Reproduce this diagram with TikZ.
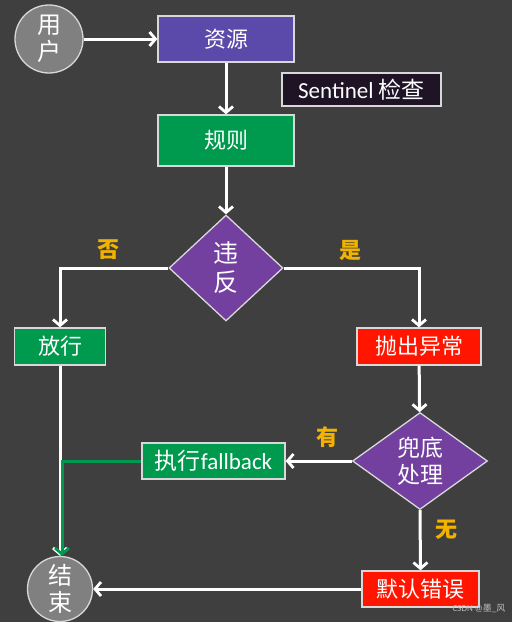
\documentclass[tikz,border=0pt]{standalone}
\usepackage{fontspec}
\setmainfont{Carlito}
\newfontfamily\cjk{Noto Sans CJK SC}
\usetikzlibrary{shapes.geometric,arrows.meta}

\definecolor{bgdark}{HTML}{3F3F3F}
\definecolor{respurple}{HTML}{5B4AA9}
\definecolor{okgreen}{HTML}{009A4E}
\definecolor{diapurple}{HTML}{7340A0}
\definecolor{errred}{HTML}{FF1500}
\definecolor{chkdark}{HTML}{1F1426}
\definecolor{labelorange}{HTML}{F2B200}
\definecolor{endgray}{HTML}{808080}
\definecolor{edgegray}{HTML}{D8D8D8}

\tikzset{
  flowbox/.style={draw=edgegray,line width=1.3pt,inner sep=0pt,text=white,font=\cjk\fontsize{22}{24}\selectfont},
  decide/.style={diamond,draw=edgegray,line width=1.3pt,fill=diapurple,inner sep=0pt,text=white,align=center,font=\cjk\fontsize{25}{29}\selectfont},
  terminal/.style={circle,draw=edgegray,line width=1.3pt,fill=endgray,inner sep=0pt,minimum size=68pt,text=white,align=center,font=\cjk\fontsize{24}{27}\selectfont},
  answer/.style={text=labelorange,font=\cjk\bfseries\fontsize{22}{24}\selectfont},
  flow/.style={draw=white,line width=3pt,-{Straight Barb[length=6pt,width=14pt,line width=2.8pt]}},
}

\begin{document}
\begin{tikzpicture}[x=1pt,y=-1pt]
% background and page size
\fill[bgdark] (0,0) rectangle (512,622);
\useasboundingbox (0,0) rectangle (512,622);

% Top part
\node[terminal] (user) at (49,39) {用\\户};
\node[flowbox,fill=respurple,minimum width=136pt,minimum height=46pt] (res) at (226,39) {资源};
\node[flowbox,fill=chkdark,minimum width=159pt,minimum height=33pt,font=\fontsize{23}{25}\selectfont] (check) at (361.5,89.5) {Sentinel {\cjk 检查}};
\node[flowbox,fill=okgreen,minimum width=136pt,minimum height=51pt] (rule) at (226,140.5) {规则};

% First decision
\node[decide,aspect=1.075,minimum width=114pt,minimum height=106pt] (viol) at (226,268) {违\\反};
\node[answer] (no) at (108,250) {否};
\node[answer] (yes) at (350,250) {是};

\node[flowbox,fill=okgreen,minimum width=91pt,minimum height=37pt] (pass) at (60,346.5) {放行};
\node[flowbox,fill=errred,minimum width=124pt,minimum height=37pt] (throw) at (419,346.5) {抛出异常};

% Fallback decision
\node[decide,aspect=1.39,minimum width=135pt,minimum height=97pt,font=\cjk\fontsize{23}{27}\selectfont] (fb) at (420,461) {兜底\\处理};
\node[answer] (has) at (327,437) {有};
\node[answer] (none) at (446,530) {无};

\node[flowbox,fill=okgreen,minimum width=143pt,minimum height=36pt,font=\fontsize{23}{25}\selectfont] (fallback) at (213.5,461) {{\cjk 执行}fallback};
\node[flowbox,fill=errred,minimum width=117pt,minimum height=36pt] (deferr) at (420.5,589) {默认错误};
\node[terminal,minimum size=65pt] (end) at (60,589) {结\\束};

% Watermark
\node[text=gray!50,font=\fontsize{9}{10}\selectfont,anchor=east] (mark) at (509,609) {CSDN @{\cjk 墨}\_{\cjk 风}};

% Connectors
\draw[flow] (user) -- (res);
\draw[flow] (res) -- (rule);
\draw[flow] (rule) -- (viol);
\draw[flow] (viol.west) -| (pass.north);
\draw[flow] (viol.east) -| (throw.north);
\draw[flow] (throw) -- (fb);
\draw[flow] (fb.west) -- (fallback.east);
\draw[flow] (fb.south) -- (deferr.north);
\draw[flow] (deferr.west) -- (end.east);
\draw[flow] (pass.south) -- (end.north);
\draw[flow,draw=okgreen,-{Straight Barb[length=6pt,width=14pt,line width=2.8pt,color=okgreen]}] (fallback.west) -| ([xshift=2pt]end.north);
\end{tikzpicture}
\end{document}
